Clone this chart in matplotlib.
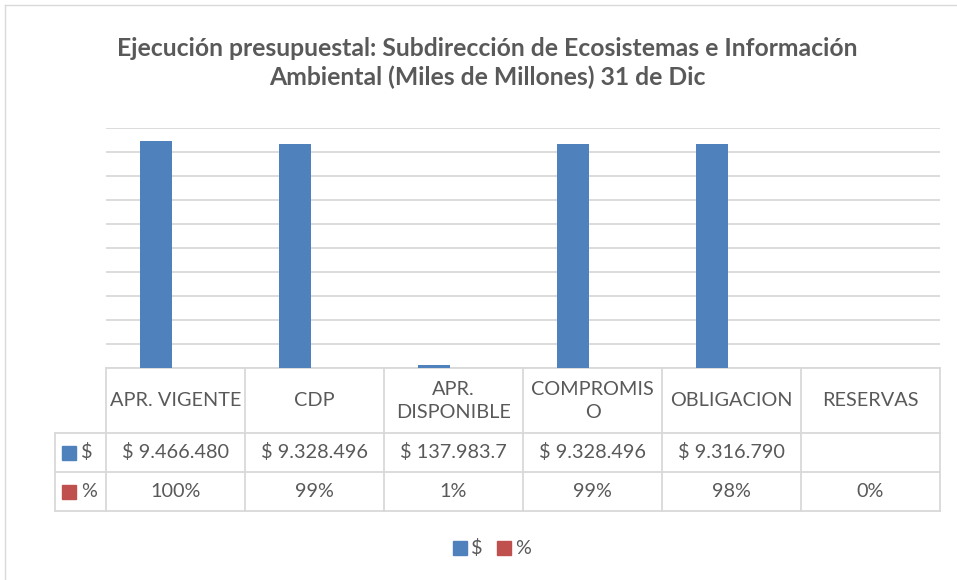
import matplotlib.pyplot as plt
from matplotlib.patches import Rectangle

# data
categorias = ['APR. VIGENTE', 'CDP', 'APR.\nDISPONIBLE', 'COMPROMIS\nO', 'OBLIGACION', 'RESERVAS']
pesos = [9466480, 9328496, 137983.7, 9328496, 9316790, 0]
pesos_txt = ['$ 9.466.480', '$ 9.328.496', '$ 137.983.7', '$ 9.328.496', '$ 9.316.790', '']
porcentaje = [1.00, 0.99, 0.01, 0.99, 0.98, 0.0]
porcentaje_txt = ['100%', '99%', '1%', '99%', '98%', '0%']
series = ['$', '%']
colores = ['#4f81bd', '#c0504d']

titulo = 'Ejecución presupuestal: Subdirección de Ecosistemas e Información\nAmbiental (Miles de Millones) 31 de Dic'

W, H = 957, 580
gris = '#595959'
linea = '#d9d9d9'
fuente = 'Lato'

fig = plt.figure(figsize=(W / 100, H / 100), dpi=100)

# overlay in pixel coords for border / table
ov = fig.add_axes([0, 0, 1, 1])
ov.set_xlim(0, W)
ov.set_ylim(H, 0)
ov.axis('off')

# chart border
ov.plot([5, 5], [H, 5], color=linea, lw=1)
ov.plot([5, W], [5, 5], color=linea, lw=1)

# plot area
x0, x1 = 106, 940
ytop, ybot = 128, 368
ax = fig.add_axes([x0 / W, (H - ybot) / H, (x1 - x0) / W, (ybot - ytop) / H])
ax.set_xlim(-0.5, len(categorias) - 0.5)
ax.set_ylim(0, 10000000)
ax.set_yticks(range(0, 10000001, 1000000))
ax.grid(axis='y', color=linea, lw=1.3)
ax.set_axisbelow(True)
for s in ax.spines.values():
    s.set_visible(False)
ax.tick_params(left=False, bottom=False, labelleft=False, labelbottom=False)
ax.patch.set_alpha(0)

idx = range(len(categorias))
w = 0.23
ax.bar([i - 0.14 for i in idx], pesos, width=w, color=colores[0])
ax.bar([i - 0.14 + w for i in idx], porcentaje, width=w, color=colores[1])

# title
ov.text(487, 63, titulo, ha='center', va='center', fontsize=17.8, fontweight='bold',
        color=gris, family=fuente, linespacing=1.3)

# data table
cw = (x1 - x0) / len(categorias)
rows = [368, 433, 472, 511]
xl = 55
lw_t = 1.3
# horizontal lines
ov.plot([x0, x1], [rows[0], rows[0]], color=linea, lw=lw_t)
for y in rows[1:]:
    ov.plot([xl, x1], [y, y], color=linea, lw=lw_t)
# vertical lines
for i in range(len(categorias) + 1):
    ov.plot([x0 + i * cw] * 2, [rows[0], rows[3]], color=linea, lw=lw_t)
ov.plot([xl, xl], [rows[1], rows[3]], color=linea, lw=lw_t)

fs = 14.3
for i, c in enumerate(categorias):
    cx = x0 + (i + 0.5) * cw
    ov.text(cx, (rows[0] + rows[1]) / 2 + 0.5, c, ha='center', va='center', fontsize=fs,
            color=gris, family=fuente, linespacing=1.4)
    ov.text(cx, (rows[1] + rows[2]) / 2, pesos_txt[i], ha='center', va='center',
            fontsize=fs, color=gris, family=fuente)
    ov.text(cx, (rows[2] + rows[3]) / 2, porcentaje_txt[i], ha='center', va='center',
            fontsize=fs, color=gris, family=fuente)

for k, (nombre, col) in enumerate(zip(series, colores)):
    yc = (rows[k + 1] + rows[k + 2]) / 2
    ov.add_patch(Rectangle((62, yc - 7), 14, 14, color=col))
    ov.text(81, yc, nombre, ha='left', va='center', fontsize=fs, color=gris, family=fuente)

# legend
ly = 548
for k, (nombre, col) in enumerate(zip(series, colores)):
    lx = 453 + k * 44
    ov.add_patch(Rectangle((lx, ly - 7), 14, 14, color=col))
    ov.text(lx + 18, ly, nombre, ha='left', va='center', fontsize=fs, color=gris, family=fuente)

fig.savefig('out.png', dpi=100)
